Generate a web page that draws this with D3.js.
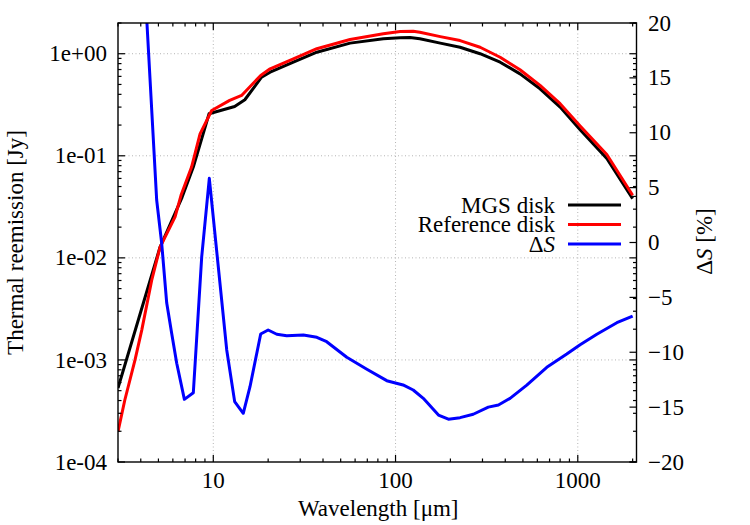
<!DOCTYPE html>
<html>
<head>
<meta charset="utf-8">
<script src="https://cdn.jsdelivr.net/npm/d3@7"></script>
<style>
  body { margin: 0; background: #fff; }
</style>
</head>
<body>
<div id="chart"></div>
<script>
"use strict";

// MGS disk (black), left axis
const mgsWavelength = [3, 3.91, 5.1, 6.74, 7.77, 9.48, 13.1, 14.9, 18.4, 20.5, 27.5, 37, 56.3, 85.7, 106, 120, 136, 176, 226, 291, 375, 482, 621, 800, 1030, 1443, 2000];
const mgsFlux = [5.3e-4, 2.59e-3, 0.0127, 0.0392, 0.0775, 0.258, 0.304, 0.354, 0.589, 0.659, 0.826, 1.035, 1.27, 1.40, 1.43, 1.44, 1.40, 1.27, 1.158, 1.0, 0.826, 0.635, 0.453, 0.300, 0.180, 0.094, 0.038];

// Reference disk (red), left axis
const refWavelength = [3, 3.27, 3.72, 4.05, 4.59, 5.1, 6.17, 6.65, 7.6, 8.46, 9.8, 12.3, 14.3, 18.2, 20.5, 27.5, 37, 56.3, 85.7, 106, 125, 136, 176, 226, 291, 375, 482, 621, 800, 1030, 1443, 2000];
const refFlux = [1.98e-4, 4.05e-4, 1.0e-3, 1.96e-3, 6.0e-3, 0.0127, 0.0252, 0.041, 0.0775, 0.164, 0.278, 0.349, 0.39, 0.613, 0.711, 0.89, 1.12, 1.38, 1.57, 1.65, 1.66, 1.62, 1.47, 1.345, 1.158, 0.924, 0.696, 0.489, 0.324, 0.196, 0.103, 0.041];

// Delta S (blue), right axis in %
const deltaWavelength = [3, 4.89, 5.21, 5.55, 5.91, 6.30, 6.94, 7.77, 8.64, 9.51, 11.85, 13.1, 14.6, 15.9, 18.2, 20.0, 22.3, 25.3, 31.2, 37, 41.9, 54, 69.6, 89.5, 110, 125, 142, 172, 195, 226, 267, 323, 367, 425, 525, 676, 870, 1030, 1272, 1638, 2000];
const deltaS = [68, 3.87, -0.07, -5.5, -8.27, -11.0, -14.29, -13.69, -1.29, 5.85, -9.79, -14.5, -15.56, -13.14, -8.34, -7.97, -8.36, -8.49, -8.43, -8.64, -9.04, -10.46, -11.55, -12.59, -12.98, -13.44, -14.2, -15.72, -16.1, -15.96, -15.65, -15.0, -14.8, -14.2, -13.0, -11.37, -10.16, -9.31, -8.36, -7.31, -6.7];

const xTicks = [10, 100, 1000];
const yTicks = [1e-4, 1e-3, 1e-2, 1e-1, 1];
const y2Ticks = [-20, -15, -10, -5, 0, 5, 10, 15, 20];

const legendLabels = ["MGS disk", "Reference disk", "ΔS"];
const legendColors = ["#000000", "#ff0000", "#0000ff"];

const width = 750, height = 525;
const plot = { left: 118, right: 636.5, top: 23, bottom: 462 };
const serif = "'Liberation Serif', 'Times New Roman', Times, 'DejaVu Serif', serif";

const svg = d3.select("#chart")
  .append("svg")
  .attr("width", width)
  .attr("height", height)
  .attr("font-family", serif);

const x = d3.scaleLog().domain([3, 2100]).range([plot.left, plot.right]);
const y = d3.scaleLog().domain([1e-4, 2]).range([plot.bottom, plot.top]);
const y2 = d3.scaleLinear().domain([-20, 20]).range([plot.bottom, plot.top]);

// minor tick values for log axes
const xMinor = [];
for (let p = 0; p <= 3; p++) {
  for (let m = 1; m <= 9; m++) {
    const v = m * Math.pow(10, p);
    if (v >= 3 && v <= 2100) xMinor.push(v);
  }
}
const yMinor = [];
for (let p = -4; p <= 0; p++) {
  for (let m = 1; m <= 9; m++) {
    const v = m * Math.pow(10, p);
    if (v >= 1e-4 && v <= 2) yMinor.push(v);
  }
}
const isMajor = v => Math.abs(Math.log10(v) - Math.round(Math.log10(v))) < 1e-9;

// grid
const grid = svg.append("g")
  .attr("stroke", "#b4b4b4")
  .attr("stroke-width", 1)
  .attr("stroke-dasharray", "1,2.5");
grid.selectAll(".gx").data(xTicks).enter().append("line")
  .attr("x1", d => x(d)).attr("x2", d => x(d))
  .attr("y1", plot.top).attr("y2", plot.bottom);
grid.selectAll(".gy").data(yTicks.filter(d => d > 1e-4)).enter().append("line")
  .attr("x1", plot.left).attr("x2", plot.right)
  .attr("y1", d => y(d)).attr("y2", d => y(d));

// curves
svg.append("clipPath").attr("id", "clip")
  .append("rect")
  .attr("x", plot.left).attr("y", plot.top)
  .attr("width", plot.right - plot.left).attr("height", plot.bottom - plot.top);

const curves = svg.append("g").attr("clip-path", "url(#clip)");

const fluxLine = d3.line().x(d => x(d[0])).y(d => y(d[1]));
const deltaLine = d3.line().x(d => x(d[0])).y(d => y2(d[1]));

curves.append("path")
  .datum(d3.zip(mgsWavelength, mgsFlux))
  .attr("d", fluxLine)
  .attr("fill", "none").attr("stroke", legendColors[0]).attr("stroke-width", 3)
  .attr("stroke-linejoin", "round");

curves.append("path")
  .datum(d3.zip(refWavelength, refFlux))
  .attr("d", fluxLine)
  .attr("fill", "none").attr("stroke", legendColors[1]).attr("stroke-width", 3)
  .attr("stroke-linejoin", "round");

curves.append("path")
  .datum(d3.zip(deltaWavelength, deltaS))
  .attr("d", deltaLine)
  .attr("fill", "none").attr("stroke", legendColors[2]).attr("stroke-width", 3)
  .attr("stroke-linejoin", "round");

// ticks (inward, mirrored log ticks on top and right)
const ticks = svg.append("g").attr("stroke", "#000").attr("stroke-width", 1.2);
const majorLen = 7, minorLen = 3.5;

xMinor.forEach(v => {
  const len = isMajor(v) ? majorLen : minorLen;
  ticks.append("line").attr("x1", x(v)).attr("x2", x(v))
    .attr("y1", plot.bottom).attr("y2", plot.bottom - len);
  ticks.append("line").attr("x1", x(v)).attr("x2", x(v))
    .attr("y1", plot.top).attr("y2", plot.top + len);
});
yMinor.forEach(v => {
  const len = isMajor(v) ? majorLen : minorLen;
  ticks.append("line").attr("x1", plot.left).attr("x2", plot.left + len)
    .attr("y1", y(v)).attr("y2", y(v));
  ticks.append("line").attr("x1", plot.right).attr("x2", plot.right - len)
    .attr("y1", y(v)).attr("y2", y(v));
});
y2Ticks.forEach(v => {
  ticks.append("line").attr("x1", plot.right).attr("x2", plot.right - majorLen)
    .attr("y1", y2(v)).attr("y2", y2(v));
});

// border
svg.append("rect")
  .attr("x", plot.left).attr("y", plot.top)
  .attr("width", plot.right - plot.left).attr("height", plot.bottom - plot.top)
  .attr("fill", "none").attr("stroke", "#000").attr("stroke-width", 1.4);

// tick labels
const fontSize = "23px";
svg.selectAll(".xl").data(xTicks).enter().append("text")
  .attr("x", d => x(d)).attr("y", 488)
  .attr("text-anchor", "middle").attr("font-size", fontSize)
  .text(d => d);

svg.selectAll(".yl").data(yTicks).enter().append("text")
  .attr("x", 107).attr("y", d => y(d)).attr("dy", "0.33em")
  .attr("text-anchor", "end").attr("font-size", fontSize)
  .text(d => d3.format(".0e")(d).replace(/e([+-])(\d)$/, "e$10$2"));

svg.selectAll(".y2l").data(y2Ticks).enter().append("text")
  .attr("x", 648).attr("y", d => y2(d)).attr("dy", "0.33em")
  .attr("text-anchor", "start").attr("font-size", fontSize)
  .text(d => d < 0 ? "\u2212" + Math.abs(d) : d);

// axis titles
svg.append("text")
  .attr("x", (plot.left + plot.right) / 2 + 1).attr("y", 516)
  .attr("text-anchor", "middle").attr("font-size", fontSize)
  .text("Wavelength [μm]");

svg.append("text")
  .attr("transform", "translate(23," + ((plot.top + plot.bottom) / 2) + ") rotate(-90)")
  .attr("text-anchor", "middle").attr("font-size", fontSize)
  .text("Thermal reemission [Jy]");

const y2Title = svg.append("text")
  .attr("transform", "translate(712," + ((plot.top + plot.bottom) / 2 - 1) + ") rotate(-90)")
  .attr("text-anchor", "middle").attr("font-size", fontSize);
y2Title.append("tspan").text("Δ");
y2Title.append("tspan").attr("font-style", "italic").text("S");
y2Title.append("tspan").text(" [%]");

// legend
const legend = svg.append("g");
legendLabels.forEach((lab, i) => {
  const cy = 205 + i * 19.5;
  const t = legend.append("text")
    .attr("x", 555).attr("y", cy).attr("dy", "0.33em")
    .attr("text-anchor", "end").attr("font-size", fontSize);
  if (lab === "ΔS") {
    t.append("tspan").text("Δ");
    t.append("tspan").attr("font-style", "italic").text("S");
  } else {
    t.text(lab);
  }
  legend.append("line")
    .attr("x1", 568).attr("x2", 621)
    .attr("y1", cy).attr("y2", cy)
    .attr("stroke", legendColors[i]).attr("stroke-width", 3);
});
</script>
</body>
</html>
